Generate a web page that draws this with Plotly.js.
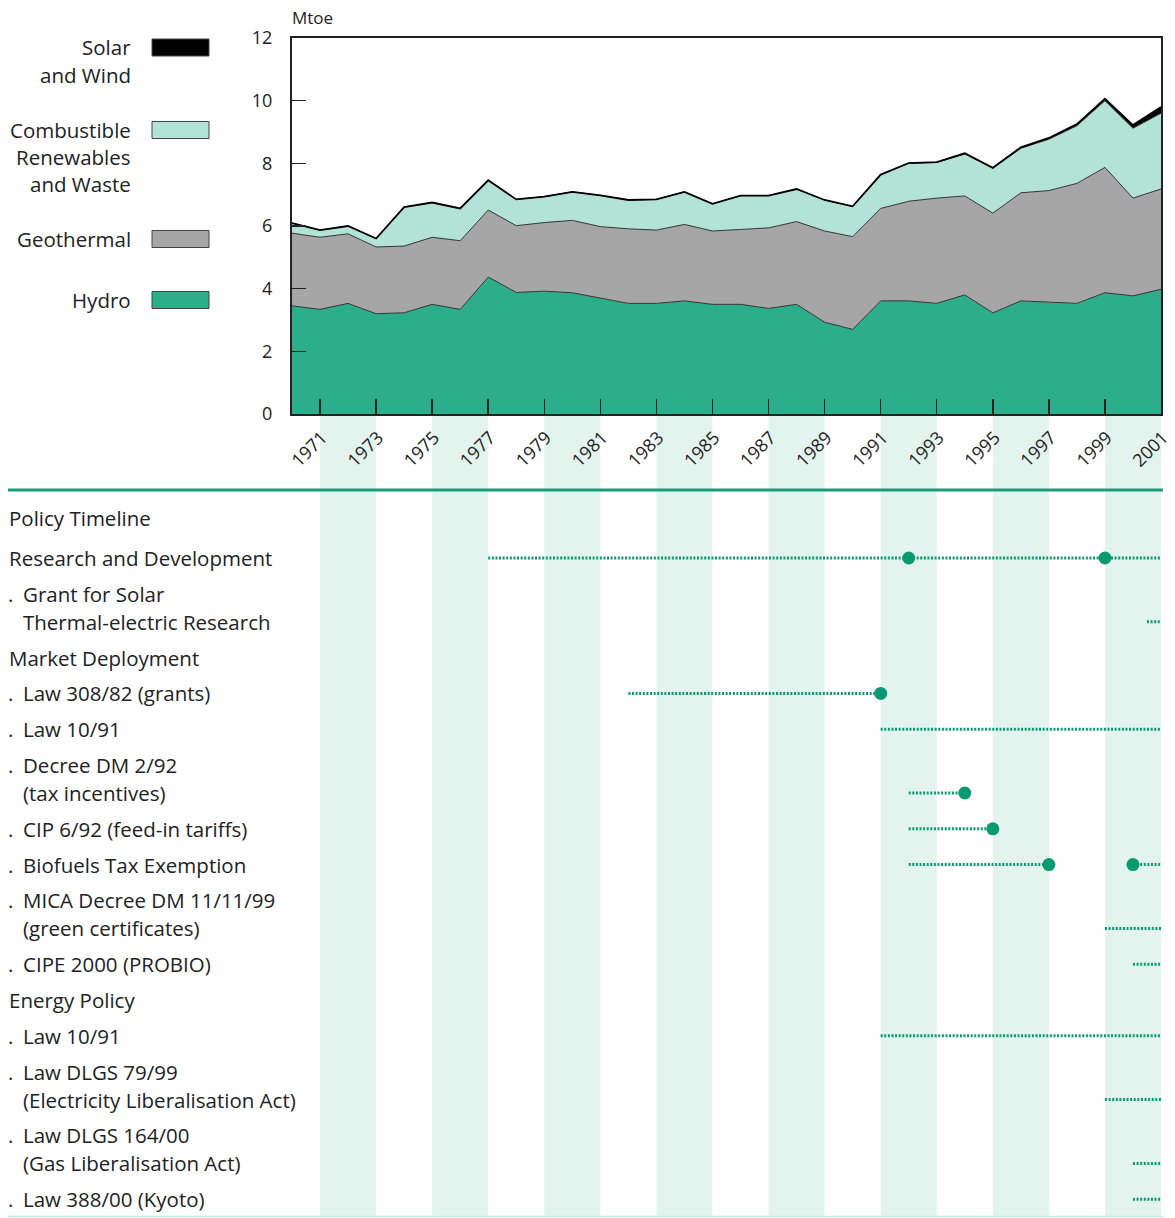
<!DOCTYPE html>
<html>
<head>
<meta charset="utf-8">
<script src="https://cdn.plot.ly/plotly-3.0.1.min.js"></script>
<style>html,body{margin:0;padding:0;background:#fff;}#chart{width:1175px;height:1218px;}</style>
</head>
<body>
<div id="chart"></div>
<script>
// ---------------- DATA ----------------
const years = [1970,1971,1972,1973,1974,1975,1976,1977,1978,1979,1980,1981,1982,1983,1984,1985,
               1986,1987,1988,1989,1990,1991,1992,1993,1994,1995,1996,1997,1998,1999,2000,2001];
const hydro = [3.45,3.34,3.53,3.20,3.23,3.50,3.34,4.37,3.88,3.92,3.87,3.69,3.53,3.53,3.61,3.50,
               3.50,3.37,3.50,2.93,2.70,3.61,3.61,3.53,3.80,3.23,3.61,3.57,3.53,3.87,3.77,3.98];
const geothermal = [2.32,2.30,2.22,2.13,2.13,2.14,2.19,2.14,2.13,2.19,2.31,2.29,2.38,2.34,2.44,2.34,
                    2.39,2.57,2.64,2.91,2.96,2.95,3.18,3.36,3.16,3.18,3.45,3.56,3.83,4.00,3.12,3.20];
const combustible = [0.32,0.23,0.25,0.27,1.24,1.11,1.03,0.95,0.84,0.83,0.91,1.00,0.92,0.98,1.04,0.87,
                     1.08,1.03,1.04,0.99,0.96,1.07,1.21,1.14,1.34,1.43,1.42,1.64,1.84,2.13,2.23,2.42];
const solarWind = [0,0,0,0,0,0,0,0,0,0,0,0,0,0,0,0,
                   0,0,0,0,0.01,0.01,0.01,0.01,0.02,0.02,0.03,0.04,0.05,0.06,0.10,0.20];
const seriesNames = ["Hydro", "Geothermal", "Combustible\nRenewables\nand Waste", "Solar\nand Wind"];
const yTicks = [0,2,4,6,8,10,12];
const xTicks = [1971,1973,1975,1977,1979,1981,1983,1985,1987,1989,1991,1993,1995,1997,1999,2001];
const unitLabel = "Mtoe";

const timelineLabels = [
  ["Policy Timeline"],
  ["Research and Development"],
  [". Grant for Solar", "Thermal-electric Research"],
  ["Market Deployment"],
  [". Law 308/82 (grants)"],
  [". Law 10/91"],
  [". Decree DM 2/92", "(tax incentives)"],
  [". CIP 6/92 (feed-in tariffs)"],
  [". Biofuels Tax Exemption"],
  [". MICA Decree DM 11/11/99", "(green certificates)"],
  [". CIPE 2000 (PROBIO)"],
  ["Energy Policy"],
  [". Law 10/91"],
  [". Law DLGS 79/99", "(Electricity Liberalisation Act)"],
  [". Law DLGS 164/00", "(Gas Liberalisation Act)"],
  [". Law 388/00 (Kyoto)"]
];
const timelineSegments = [
  [], [[1977,2001]], [[2000.5,2001]], [], [[1982,1991]], [[1991,2001]], [[1992,1994]],
  [[1992,1995]], [[1992,1997],[2000,2001]], [[1999,2001]], [[2000,2001]], [],
  [[1991,2001]], [[1999,2001]], [[2000,2001]], [[2000,2001]]
];
const timelineDots = [
  [], [1992,1999], [], [], [1991], [], [1994], [1995], [1997,2000], [], [], [], [], [], [], []
];

// ---------------- STYLE / LAYOUT ----------------
const W = 1175, H = 1218;
const FONT = "Open Sans, sans-serif";
const TXT = "#222";
const LBL = 20.5;
const colors = ["#2dae8b", "#a6a6a6", "#b3e2d6", "#000000"];
const bandColor = "#e3f4ee";
const tlGreen = "#0a9a72";
const plotL = 292, plotR = 1161, plotT = 38, plotB = 414;
const px = v => v / W;
const py = v => 1 - v / H;

const seriesVals = [hydro, geothermal, combustible, solarWind];
const traces = seriesVals.map((vals, i) => ({
  x: years, y: vals, type: "scatter", mode: "lines", stackgroup: "energy",
  name: seriesNames[i].replace(/\n/g, " "),
  line: {color: i === 3 ? "#000" : "#333", width: i === 3 ? 1.8 : 1},
  fillcolor: colors[i], xaxis: "x", yaxis: "y", hoverinfo: "skip"
}));

// timeline rows pixel positions
const rowY = [];
let cur = 518;
timelineLabels.forEach((lines, i) => {
  const ys = lines.map((_, k) => cur + k * 28);
  rowY.push(ys);
  cur = ys[ys.length - 1] + (i === 0 ? 40 : 35.8);
});

const annotations = [];
const shapes = [];

timelineLabels.forEach((lines, i) => {
  lines.forEach((t, k) => {
    let text = t, x = 7;
    if (t.startsWith(". ")) {
      annotations.push({xref: "paper", yref: "paper", x: px(6), y: py(rowY[i][k]), text: ".",
        showarrow: false, xanchor: "left", yanchor: "middle", font: {family: FONT, size: LBL, color: TXT}});
      text = t.slice(2); x = 21;
    } else if (k > 0) { x = 21; }
    annotations.push({xref: "paper", yref: "paper", x: px(x), y: py(rowY[i][k]), text: text,
      showarrow: false, xanchor: "left", yanchor: "middle", font: {family: FONT, size: LBL, color: TXT}});
  });
  const lineY = rowY[i][rowY[i].length - 1];
  timelineSegments[i].forEach(seg => {
    traces.push({x: seg, y: [lineY, lineY], type: "scatter", mode: "lines", xaxis: "x", yaxis: "y2",
      line: {color: tlGreen, width: 3, dash: "2px,1.6px"}, hoverinfo: "skip", showlegend: false, cliponaxis: false});
  });
  if (timelineDots[i].length) {
    traces.push({x: timelineDots[i], y: timelineDots[i].map(() => lineY), type: "scatter", mode: "markers",
      xaxis: "x", yaxis: "y2", marker: {color: tlGreen, size: 13}, hoverinfo: "skip", showlegend: false, cliponaxis: false});
  }
});

// alternating year bands below the chart
for (let i = 0; i < xTicks.length - 1; i += 2) {
  shapes.push({type: "rect", xref: "x", yref: "paper", x0: xTicks[i], x1: xTicks[i + 1],
    y0: py(1216), y1: py(plotB + 1), fillcolor: bandColor, line: {width: 0}, layer: "below"});
}
// separator and bottom lines
shapes.push({type: "line", xref: "paper", yref: "paper", x0: px(8), x1: px(1163), y0: py(490), y1: py(490),
  line: {color: "#1c9a7a", width: 3}});
shapes.push({type: "line", xref: "paper", yref: "paper", x0: px(8), x1: px(1163), y0: py(1216.5), y1: py(1216.5),
  line: {color: "#bdece1", width: 1.5}});

// custom legend
const legendBoxY = [300, 239, 130, 47.5];
seriesNames.forEach((name, i) => {
  const cy = legendBoxY[i];
  shapes.push({type: "rect", xref: "paper", yref: "paper", x0: px(152), x1: px(209), y0: py(cy - 8.5), y1: py(cy + 8.5),
    fillcolor: colors[i], line: {color: "#444", width: 1}});
  name.split("\n").forEach((ln, k) => {
    annotations.push({xref: "paper", yref: "paper", x: px(133), y: py(cy + k * 27), text: ln, showarrow: false,
      xanchor: "right", yanchor: "middle", font: {family: FONT, size: LBL, color: TXT}});
  });
});

annotations.push({xref: "paper", yref: "paper", x: px(290), y: py(17), text: unitLabel, showarrow: false,
  xanchor: "left", yanchor: "middle", font: {family: FONT, size: 17, color: TXT}});

const layout = {
  width: W, height: H, margin: {l: 0, r: 0, t: 0, b: 0},
  paper_bgcolor: "#fff", plot_bgcolor: "rgba(0,0,0,0)",
  showlegend: false, hovermode: false,
  xaxis: {domain: [px(plotL), px(plotR)], range: [1970, 2001], tickvals: xTicks, ticktext: xTicks.map(String),
    ticks: "inside", ticklen: 15, tickwidth: 1.5, tickcolor: "#222", tickangle: -45,
    showline: true, linecolor: "#222", linewidth: 2, mirror: true, showgrid: false, zeroline: false,
    tickfont: {family: FONT, size: 18, color: TXT}, anchor: "y", fixedrange: true,
    ticklabelstandoff: 4, ticklabelshift: 2, ticklabeloverflow: "allow"},
  yaxis: {domain: [py(plotB), py(plotT)], range: [0, 12], tickvals: yTicks,
    ticks: "inside", ticklen: 14, tickwidth: 1.5, tickcolor: "#222",
    showline: true, linecolor: "#222", linewidth: 2, mirror: true, showgrid: false, zeroline: false,
    tickfont: {family: FONT, size: 18, color: TXT}, anchor: "x", fixedrange: true, ticklabelstandoff: 14},
  yaxis2: {domain: [0, py(plotB + 2)], range: [H, plotB + 2], visible: false, anchor: "x", fixedrange: true},
  shapes: shapes, annotations: annotations
};

Plotly.newPlot("chart", traces, layout, {displayModeBar: false, staticPlot: true});
</script>
</body>
</html>
